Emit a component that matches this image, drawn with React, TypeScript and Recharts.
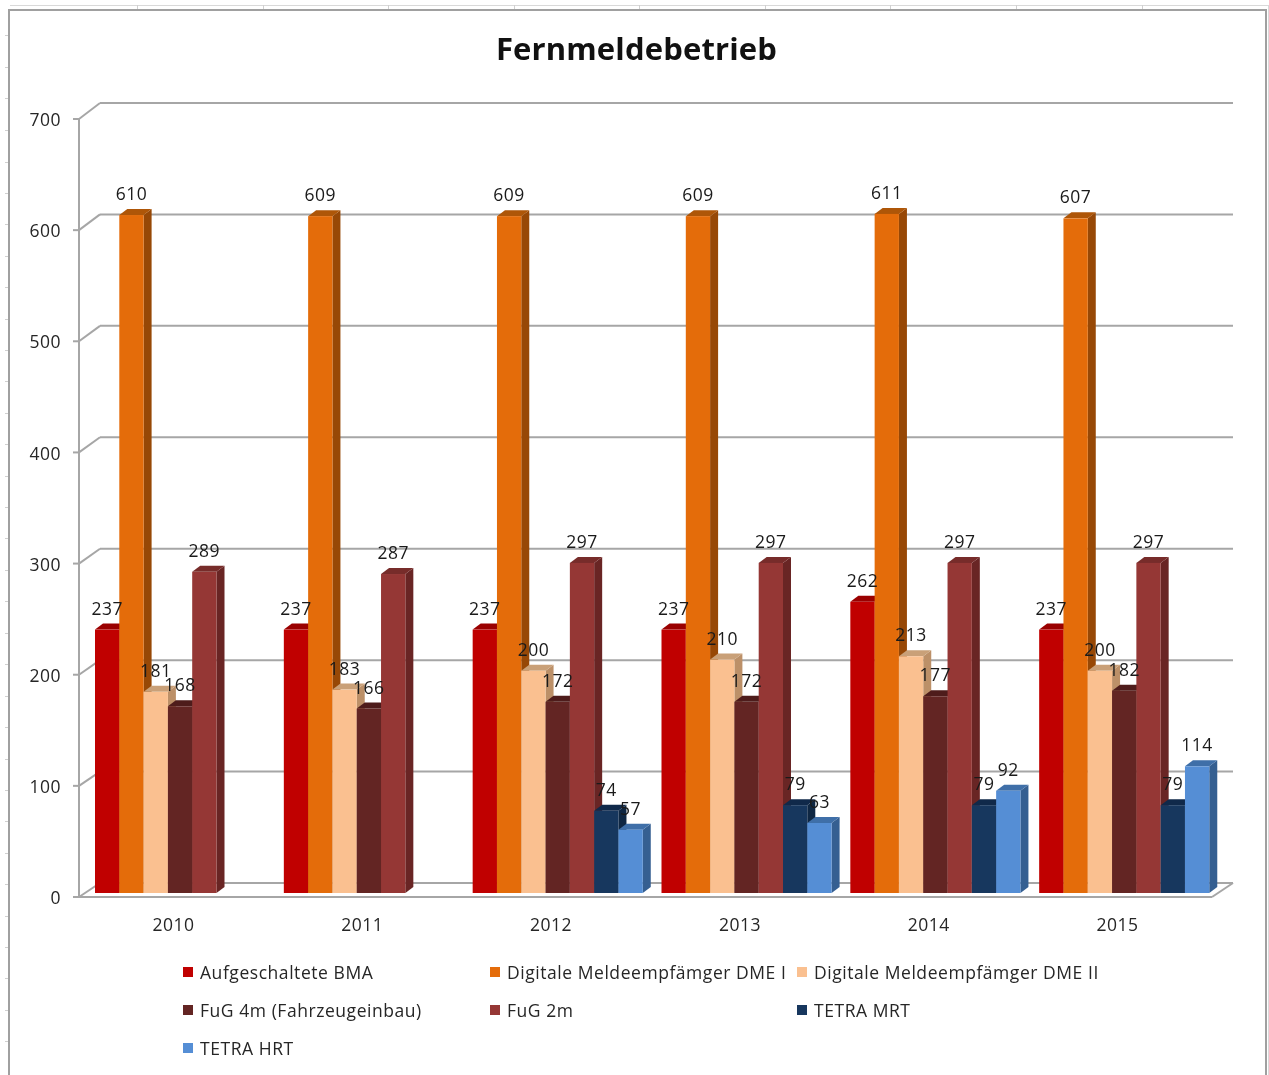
import { BarChart, Bar, XAxis, YAxis, CartesianGrid, Legend, LabelList } from "recharts";

const years = ["2010", "2011", "2012", "2013", "2014", "2015"];
const bma = [237, 237, 237, 237, 262, 237];
const dme1 = [610, 609, 609, 609, 611, 607];
const dme2 = [181, 183, 200, 210, 213, 200];
const fug4 = [168, 166, 172, 172, 177, 182];
const fug2 = [289, 287, 297, 297, 297, 297];
const mrt = [null, null, 74, 79, 79, 79];
const hrt = [null, null, 57, 63, 92, 114];
const yTicks = [0, 100, 200, 300, 400, 500, 600, 700];
// worksheet ruler marks around the chart frame
const rulerTop = [137, 263, 388, 514, 639, 765, 890, 1016, 1142];
const rulerLeft = [35, 67, 98, 130, 162, 193, 224, 256, 287, 319, 350, 381, 413, 444, 476, 507, 538, 570, 601, 633, 664, 696, 727, 759, 790, 821, 853, 884, 916, 947, 978, 1010, 1041];

const seriesList = [
  { key: "bma", name: "Aufgeschaltete BMA", values: bma, fill: "#C00000", top: "#9A0000", side: "#8E0000" },
  { key: "dme1", name: "Digitale Meldeempfämger DME I", values: dme1, fill: "#E46C0A", top: "#AE5608", side: "#974806" },
  { key: "dme2", name: "Digitale Meldeempfämger DME II", values: dme2, fill: "#FAC090", top: "#C9A078", side: "#BC9068" },
  { key: "fug4", name: "FuG 4m (Fahrzeugeinbau)", values: fug4, fill: "#632523", top: "#4E1C1B", side: "#4A1B1A" },
  { key: "fug2", name: "FuG 2m", values: fug2, fill: "#953735", top: "#772C2A", side: "#692524" },
  { key: "mrt", name: "TETRA MRT", values: mrt, fill: "#17375E", top: "#10294A", side: "#0F2743" },
  { key: "hrt", name: "TETRA HRT", values: hrt, fill: "#558ED5", top: "#3F6FA8", side: "#355F91" },
];

const data = years.map((year, i) => {
  const row: any = { year };
  seriesList.forEach((s) => {
    row[s.key] = s.values[i];
  });
  return row;
});

const FONT = "'Open Sans', sans-serif";
const GRID = "#A6A6A6";
// offset of the back wall and of the bars from the front plane
const WALL_X = 21;
const WALL_Y = -14;
const BAR_X = 7;
const BAR_Y = -4;
const DEPTH_X = 8;
const DEPTH_Y = -6;

function bar3d(top: string, side: string) {
  return (props: any) => {
    const { x, y, width, height, fill } = props;
    if (!height) return <g />;
    const l = x + BAR_X;
    const t = y + BAR_Y;
    const r = l + width;
    const b = t + height;
    return (
      <g>
        <polygon points={`${r},${t} ${r + DEPTH_X},${t + DEPTH_Y} ${r + DEPTH_X},${b + DEPTH_Y} ${r},${b}`} fill={side} />
        <polygon points={`${l},${t} ${l + DEPTH_X},${t + DEPTH_Y} ${r + DEPTH_X},${t + DEPTH_Y} ${r},${t}`} fill={top} />
        <rect x={l} y={t} width={width} height={height} fill={fill} />
      </g>
    );
  };
}

function barLabel(props: any) {
  const { x, y, width, value } = props;
  if (value == null) return <g />;
  return (
    <text x={x + width / 2 + BAR_X} y={y + BAR_Y - 15} textAnchor="middle" fontSize={17.5} letterSpacing={0.5} fontFamily={FONT} fill="#1a1a1a">
      {value}
    </text>
  );
}

function gridLine(props: any) {
  const { x1, x2, y1 } = props;
  const isFloor = y1 > 890;
  // the wall is a touch taller than the front plane
  const backY = y1 + WALL_Y - (897 - y1) * 0.0026;
  return (
    <g stroke={GRID} strokeWidth={2} fill="none">
      <line x1={x1 + WALL_X} x2={x2 + WALL_X} y1={backY} y2={backY} />
      <line x1={x1} x2={x1 + WALL_X} y1={y1} y2={backY} />
      {isFloor && <line x1={x2} x2={x2 + WALL_X} y1={y1} y2={backY} />}
      {isFloor && <line x1={x1} x2={x2} y1={y1} y2={y1} />}
    </g>
  );
}

function legendContent(props: any) {
  return (
    <div style={{ display: "grid", gridTemplateColumns: "307px 307px 307px", gridAutoRows: "38px", fontFamily: FONT, fontSize: 17.5, letterSpacing: 0.55, color: "#262626" }}>
      {props.payload.map((item: any) => (
        <div key={item.value} style={{ display: "flex", alignItems: "center", height: 38, whiteSpace: "nowrap" }}>
          <span style={{ width: 10, height: 10, background: item.color, marginRight: 7 }} />
          {item.value}
        </div>
      ))}
    </div>
  );
}

export default function App() {
  return (
    <div style={{ position: "absolute", left: 0, top: 0, width: 1269, height: 1075, background: "#fff", overflow: "hidden", filter: "blur(0.4px)" }}>
      <div style={{ position: "absolute", left: 10, top: 5, width: 1258, height: 1070, borderTop: "1px solid #D9D9D9", borderRight: "1px solid #D9D9D9" }} />
      {rulerTop.map((x) => (
        <div key={x} style={{ position: "absolute", left: x, top: 5, width: 1, height: 4, background: "#D0D0D0" }} />
      ))}
      {rulerLeft.map((y) => (
        <div key={y} style={{ position: "absolute", left: 5, top: y, width: 3, height: 1, background: "#D0D0D0" }} />
      ))}
      <div style={{ position: "absolute", left: 8, top: 9, width: 1259, height: 1066, borderTop: "2px solid #A0A0A0", borderLeft: "2px solid #A0A0A0", borderRight: "2px solid #A0A0A0", boxSizing: "border-box" }} />
      <div style={{ position: "absolute", left: 2, top: 27, width: 1269, textAlign: "center", fontFamily: FONT, fontWeight: 700, fontSize: 31, letterSpacing: 0.15, color: "#111", lineHeight: "42px" }}>
        Fernmeldebetrieb
      </div>
      <BarChart
        width={1269}
        height={1075}
        data={data}
        barSize={24.3}
        barGap={0}
        margin={{ top: 119, right: 57, bottom: 138, left: 19 }}
        style={{ position: "absolute", left: 0, top: 0 }}
      >
        <CartesianGrid vertical={false} horizontal={gridLine} />
        <XAxis dataKey="year" height={40} axisLine={false} tickLine={false} tickMargin={16} tick={{ fontSize: 17.5, letterSpacing: 0.5, fontFamily: FONT, fill: "#262626" }} />
        <YAxis
          width={60}
          domain={[0, 700]}
          ticks={yTicks}
          tickSize={6}
          tickMargin={12}
          interval={0}
          axisLine={{ stroke: GRID, strokeWidth: 2 }}
          tickLine={{ stroke: GRID, strokeWidth: 2 }}
          tick={{ fontSize: 17.5, letterSpacing: 0.5, dy: 1, fontFamily: FONT, fill: "#262626" }}
        />
        <Legend
          layout="horizontal"
          verticalAlign="middle"
          align="center"
          itemSorter={null}
          content={legendContent}
          wrapperStyle={{ left: 183, top: 953, width: 950, bottom: "auto", right: "auto" }}
        />
        {seriesList.map((s) => (
          <Bar key={s.key} dataKey={s.key} name={s.name} fill={s.fill} isAnimationActive={false} shape={bar3d(s.top, s.side)}>
            <LabelList dataKey={s.key} content={barLabel} />
          </Bar>
        ))}
      </BarChart>
    </div>
  );
}
